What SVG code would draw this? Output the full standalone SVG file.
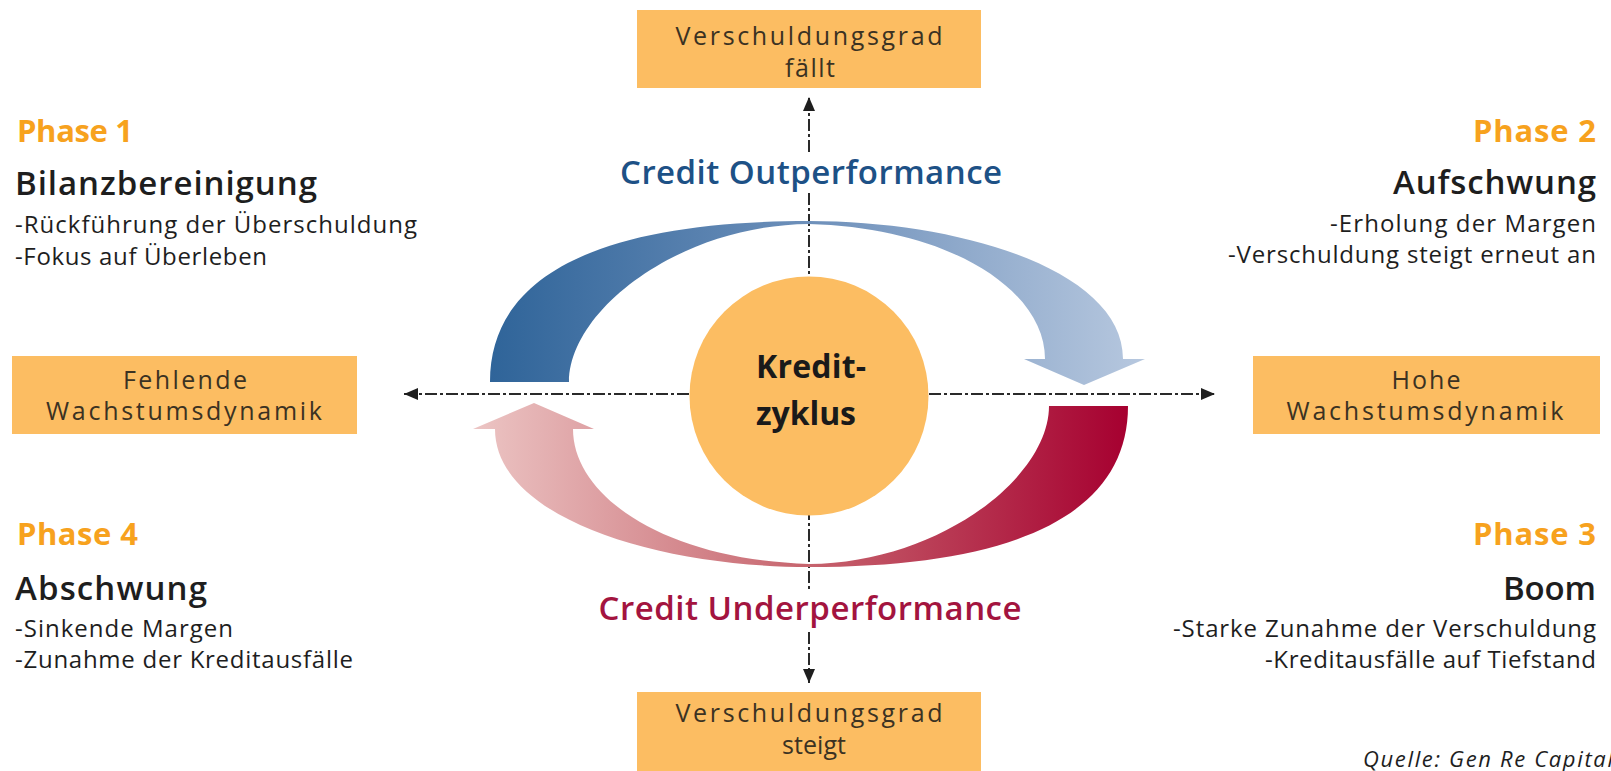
<svg xmlns="http://www.w3.org/2000/svg" width="1611" height="771" viewBox="0 0 1611 771">
<style>
text{font-family:"Open Sans","Liberation Sans",sans-serif}
.box{fill:#fcbd62}
.bt{font-size:25px;fill:#3b3222;text-anchor:middle}
.ph{font-size:31px;font-weight:700;fill:#f7a21e}
.hd{font-size:33px;font-weight:600;fill:#1e1e1e}
.bl{font-size:24px;fill:#1e1e1e}
.r{text-anchor:end}
.axis{stroke:#2a2a2a;stroke-width:2;fill:none;stroke-dasharray:12 3 3 3}
.cr{font-size:33px;font-weight:600;text-anchor:middle}
</style>
<defs>
<marker id="ah" viewBox="0 0 14 12" refX="14" refY="6" markerWidth="14" markerHeight="12" orient="auto-start-reverse" markerUnits="userSpaceOnUse">
<path d="M0,0 L14,6 L0,12 Z" fill="#1e1e1e"/>
</marker>
<linearGradient id="gBlue" gradientUnits="userSpaceOnUse" x1="490" y1="0" x2="1145" y2="0">
<stop offset="0" stop-color="#2f6499"/>
<stop offset="0.5" stop-color="#6f91bb"/>
<stop offset="1" stop-color="#b7c8df"/>
</linearGradient>
<linearGradient id="gRed" gradientUnits="userSpaceOnUse" x1="490" y1="0" x2="1145" y2="0">
<stop offset="0" stop-color="#a60030"/>
<stop offset="0.5" stop-color="#c7666f"/>
<stop offset="1" stop-color="#ecc5c4"/>
</linearGradient>
<path id="arc" d="M 490 382 C 490 270 610 221 809 221 C 960 221 1123 270 1123 359 L 1145 359 L 1084 385 L 1024 359 L 1045 359 C 1045 290 950 228 809 224 C 680 225 569 310 569 382 Z"/>
</defs>
<rect width="1611" height="771" fill="#ffffff"/>

<g id="connectors">
<line class="axis" x1="404" y1="394" x2="1215" y2="394" marker-start="url(#ah)" marker-end="url(#ah)"/>
<path class="axis" d="M 809 152 L 809 97" marker-end="url(#ah)"/>
<path class="axis" d="M 809 193 L 809 592"/>
<path class="axis" d="M 809 632 L 809 683" marker-end="url(#ah)"/>
</g>

<g id="outperformance-arrow">
<use href="#arc" fill="url(#gBlue)"/>
</g>
<g id="underperformance-arrow">
<use href="#arc" fill="url(#gRed)" transform="rotate(180 809 394)"/>
</g>

<g id="kreditzyklus">
<circle cx="809" cy="396" r="119.5" class="box"/>
<text x="811" y="378" style="font-size:32px;font-weight:700;fill:#1a1a1a;text-anchor:middle" textLength="110">Kredit-</text>
<text x="806" y="425" style="font-size:32px;font-weight:700;fill:#1a1a1a;text-anchor:middle" textLength="100">zyklus</text>
</g>

<g id="label-out">
<text class="cr" x="811" y="184" fill="#1d5186" textLength="382">Credit Outperformance</text>
</g>
<g id="label-under">
<text class="cr" x="810" y="620" fill="#a3143f" textLength="423">Credit Underperformance</text>
</g>

<g id="box-top">
<rect class="box" x="637" y="10" width="344" height="78"/>
<text class="bt" x="809" y="45" textLength="267">Verschuldungsgrad</text>
<text class="bt" x="810" y="77" textLength="50">fällt</text>
</g>
<g id="box-bottom">
<rect class="box" x="637" y="692" width="344" height="80"/>
<text class="bt" x="809" y="722" textLength="267">Verschuldungsgrad</text>
<text class="bt" x="814" y="754" textLength="64">steigt</text>
</g>
<g id="box-left">
<rect class="box" x="12" y="356" width="345" height="78"/>
<text class="bt" x="185" y="389" textLength="124">Fehlende</text>
<text class="bt" x="184" y="420" textLength="276">Wachstumsdynamik</text>
</g>
<g id="box-right">
<rect class="box" x="1253" y="356" width="347" height="78"/>
<text class="bt" x="1426" y="389" textLength="69">Hohe</text>
<text class="bt" x="1425" y="420" textLength="277">Wachstumsdynamik</text>
</g>

<g id="phase1">
<text class="ph" x="17" y="142" textLength="116">Phase 1</text>
<text class="hd" x="15" y="195" textLength="302">Bilanzbereinigung</text>
<text class="bl" x="15" y="233" textLength="402">-Rückführung der Überschuldung</text>
<text class="bl" x="15" y="265" textLength="252">-Fokus auf Überleben</text>
</g>
<g id="phase2">
<text class="ph r" x="1596" y="142" textLength="123">Phase 2</text>
<text class="hd r" x="1596" y="194" textLength="203">Aufschwung</text>
<text class="bl r" x="1596" y="232" textLength="266">-Erholung der Margen</text>
<text class="bl r" x="1596" y="263" textLength="368">-Verschuldung steigt erneut an</text>
</g>
<g id="phase3">
<text class="ph r" x="1596" y="545" textLength="123">Phase 3</text>
<text class="hd r" x="1596" y="600" textLength="93">Boom</text>
<text class="bl r" x="1596" y="637" textLength="423">-Starke Zunahme der Verschuldung</text>
<text class="bl r" x="1596" y="668" textLength="331">-Kreditausfälle auf Tiefstand</text>
</g>
<g id="phase4">
<text class="ph" x="17" y="545" textLength="121">Phase 4</text>
<text class="hd" x="15" y="600" textLength="192">Abschwung</text>
<text class="bl" x="15" y="637" textLength="218">-Sinkende Margen</text>
<text class="bl" x="15" y="668" textLength="338">-Zunahme der Kreditausfälle</text>
</g>

<g id="source">
<text x="1363" y="767" style="font-size:22px;font-style:italic;fill:#1e1e1e" textLength="250">Quelle: Gen Re Capital</text>
</g>
</svg>
